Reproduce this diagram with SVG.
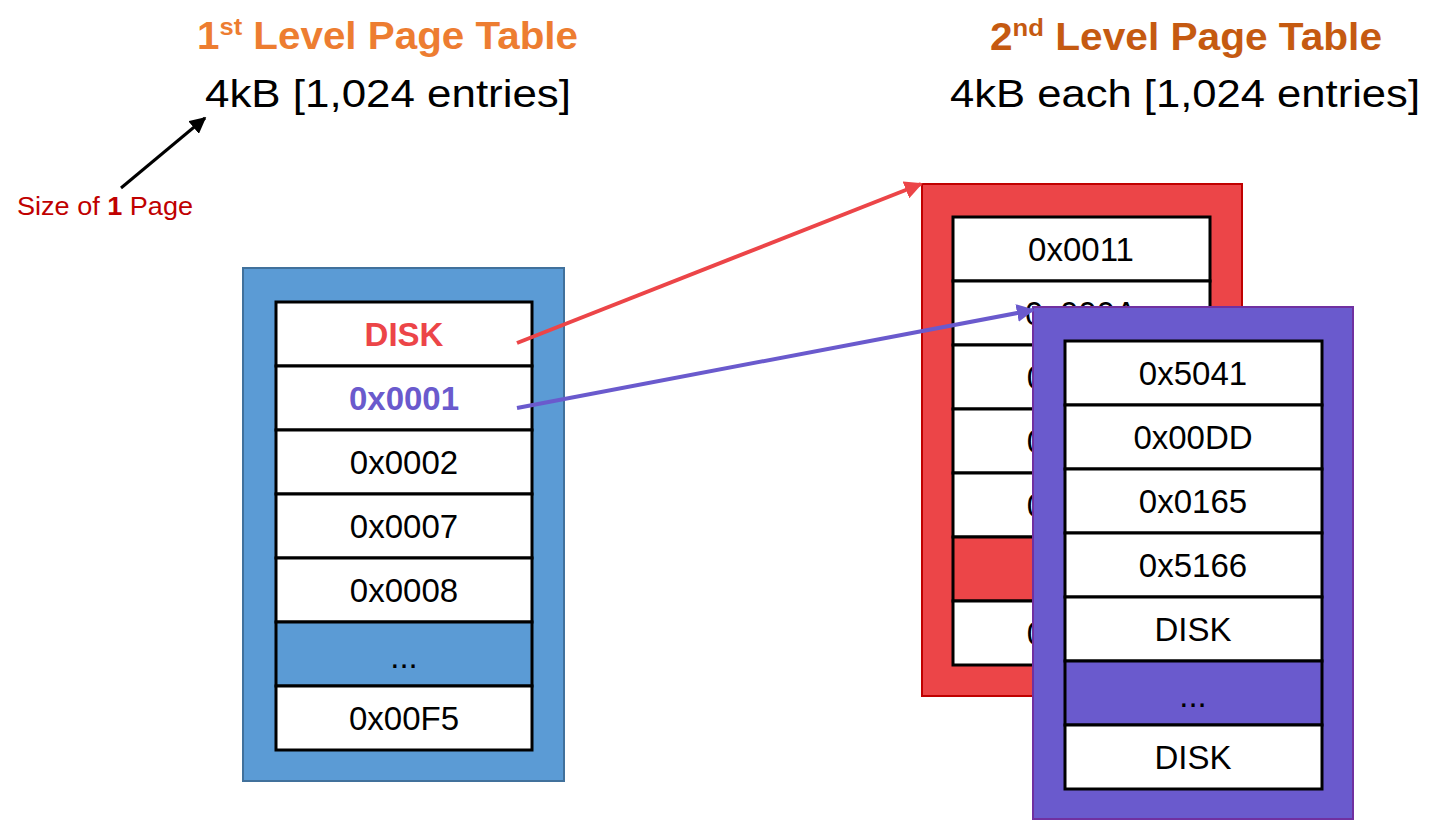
<svg xmlns="http://www.w3.org/2000/svg" width="1435" height="820" viewBox="0 0 1435 820">
  <style>
    text { font-family: "Liberation Sans", Arial, sans-serif; }
    .cell { fill: #ffffff; stroke: #000000; stroke-width: 3; }
    .val { font-size: 33px; fill: #000000; text-anchor: middle; }
    .title1 { font-size: 38px; font-weight: bold; fill: #ED7D31; }
    .title2 { font-size: 38px; font-weight: bold; fill: #C55A11; }
    .sub { font-size: 38px; fill: #000000; }
  </style>
  <defs>
    <marker id="arrBlack" viewBox="0 0 10 10" refX="9" refY="5" markerWidth="5.5" markerHeight="5.5" orient="auto">
      <path d="M0,0 L10,5 L0,10 z" fill="#000000"/>
    </marker>
    <marker id="arrRed" viewBox="0 0 10 10" refX="9" refY="5" markerWidth="4.5" markerHeight="4.5" orient="auto">
      <path d="M0,0 L10,5 L0,10 z" fill="#EC4548"/>
    </marker>
    <marker id="arrPurple" viewBox="0 0 10 10" refX="9" refY="5" markerWidth="4.5" markerHeight="4.5" orient="auto">
      <path d="M0,0 L10,5 L0,10 z" fill="#6A5ACD"/>
    </marker>
  </defs>

  <!-- headings -->
  <g id="heading-l1">
    <text class="title1" x="197" y="49" textLength="381" lengthAdjust="spacingAndGlyphs">1<tspan font-size="24" dy="-14">st</tspan><tspan dy="14"> Level Page Table</tspan></text>
    <text class="sub" x="205" y="107" textLength="366" lengthAdjust="spacingAndGlyphs">4kB [1,024 entries]</text>
  </g>
  <g id="heading-l2">
    <text class="title2" x="990" y="50" textLength="392" lengthAdjust="spacingAndGlyphs">2<tspan font-size="24" dy="-14">nd</tspan><tspan dy="14"> Level Page Table</tspan></text>
    <text class="sub" x="950" y="107" textLength="470" lengthAdjust="spacingAndGlyphs">4kB each [1,024 entries]</text>
  </g>

  <!-- page-size annotation -->
  <g id="size-note">
    <text x="17" y="215" font-size="26" fill="#C00000" textLength="176" lengthAdjust="spacingAndGlyphs">Size of <tspan font-weight="bold">1</tspan> Page</text>
  </g>

  <!-- first level table -->
  <g id="table-l1">
    <rect x="243" y="268" width="321" height="513" fill="#5B9BD5" stroke="#41719C" stroke-width="2"/>
    <rect class="cell" x="276" y="302" width="256" height="64"/>
    <rect class="cell" x="276" y="366" width="256" height="64"/>
    <rect class="cell" x="276" y="430" width="256" height="64"/>
    <rect class="cell" x="276" y="494" width="256" height="64"/>
    <rect class="cell" x="276" y="558" width="256" height="64"/>
    <rect class="cell" x="276" y="622" width="256" height="64" style="fill:#5B9BD5"/>
    <rect class="cell" x="276" y="686" width="256" height="64"/>
    <text class="val" x="404" y="346" font-weight="bold" style="fill:#EC4548">DISK</text>
    <text class="val" x="404" y="410" font-weight="bold" style="fill:#6A5ACD">0x0001</text>
    <text class="val" x="404" y="474">0x0002</text>
    <text class="val" x="404" y="538">0x0007</text>
    <text class="val" x="404" y="602">0x0008</text>
    <text class="val" x="404" y="668">...</text>
    <text class="val" x="404" y="730">0x00F5</text>
  </g>

  <!-- second level table (red) -->
  <g id="table-l2-a">
    <rect x="922" y="184" width="320" height="512" fill="#EC4548" stroke="#C00000" stroke-width="2"/>
    <rect class="cell" x="953" y="217" width="257" height="64"/>
    <rect class="cell" x="953" y="281" width="257" height="64"/>
    <rect class="cell" x="953" y="345" width="257" height="64"/>
    <rect class="cell" x="953" y="409" width="257" height="64"/>
    <rect class="cell" x="953" y="473" width="257" height="64"/>
    <rect class="cell" x="953" y="537" width="257" height="64" style="fill:#EC4548"/>
    <rect class="cell" x="953" y="601" width="257" height="64"/>
    <text class="val" x="1081" y="261">0x0011</text>
    <text class="val" x="1081" y="325">0x000A</text>
    <text class="val" x="1081" y="389">0x0014</text>
    <text class="val" x="1081" y="453">0x0032</text>
    <text class="val" x="1081" y="517">0x0019</text>
    <text class="val" x="1081" y="645">0x0040</text>
  </g>

  <!-- second level table (purple) -->
  <g id="table-l2-b">
    <rect x="1033" y="307" width="320" height="512" fill="#6A5ACD" stroke="#7030A0" stroke-width="2"/>
    <rect class="cell" x="1065" y="341" width="257" height="64"/>
    <rect class="cell" x="1065" y="405" width="257" height="64"/>
    <rect class="cell" x="1065" y="469" width="257" height="64"/>
    <rect class="cell" x="1065" y="533" width="257" height="64"/>
    <rect class="cell" x="1065" y="597" width="257" height="64"/>
    <rect class="cell" x="1065" y="661" width="257" height="64" style="fill:#6A5ACD"/>
    <rect class="cell" x="1065" y="725" width="257" height="64"/>
    <text class="val" x="1193" y="385">0x5041</text>
    <text class="val" x="1193" y="449">0x00DD</text>
    <text class="val" x="1193" y="513">0x0165</text>
    <text class="val" x="1193" y="577">0x5166</text>
    <text class="val" x="1193" y="641">DISK</text>
    <text class="val" x="1193" y="707">...</text>
    <text class="val" x="1193" y="769">DISK</text>
  </g>

  <!-- connectors -->
  <g id="connectors" fill="none">
    <line x1="121" y1="188" x2="205" y2="118" stroke="#000000" stroke-width="3" marker-end="url(#arrBlack)"/>
    <line x1="517" y1="343" x2="921" y2="184" stroke="#EC4548" stroke-width="4" marker-end="url(#arrRed)"/>
    <line x1="517" y1="408" x2="1033" y2="310" stroke="#6A5ACD" stroke-width="4" marker-end="url(#arrPurple)"/>
  </g>
</svg>
